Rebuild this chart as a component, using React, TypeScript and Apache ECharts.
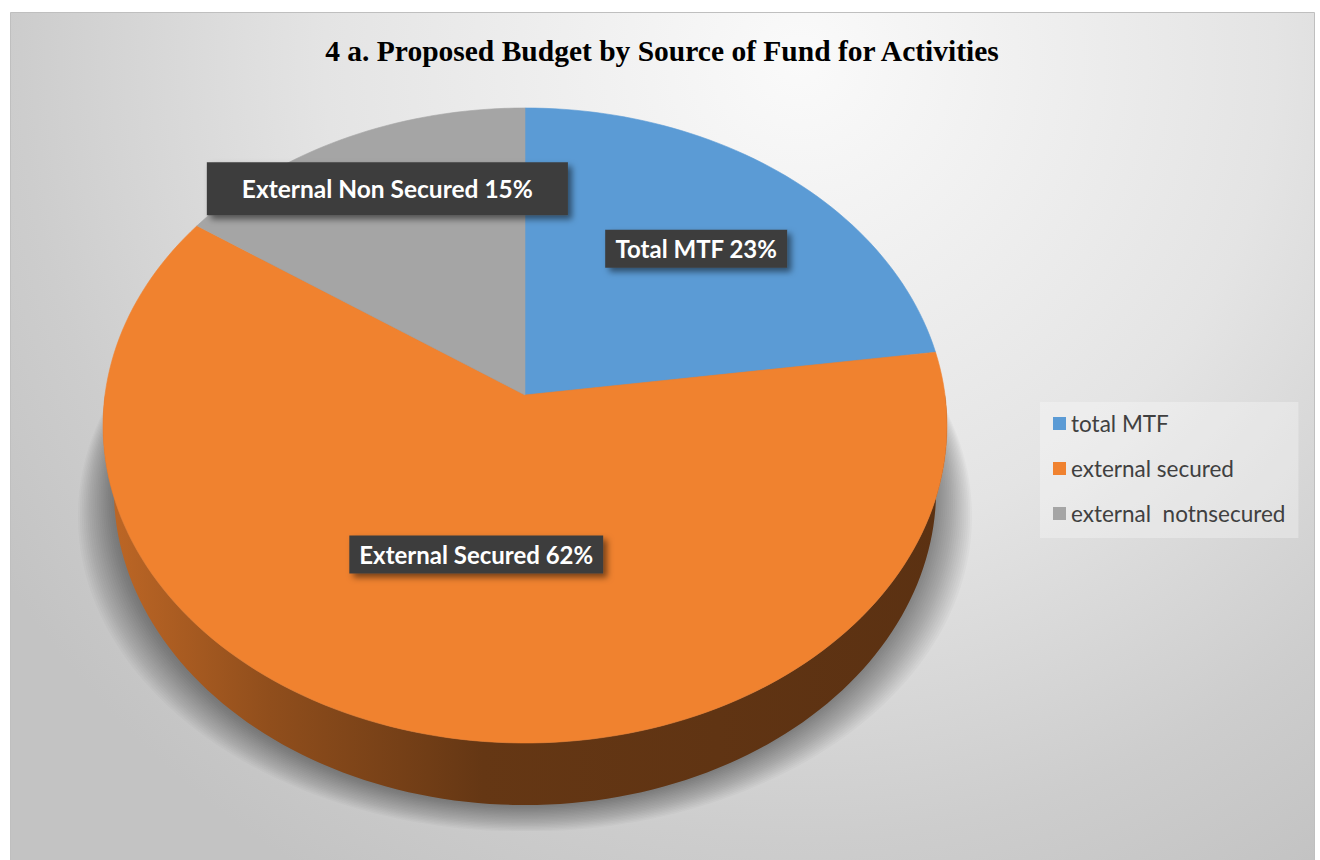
import React, { useEffect, useRef } from 'react';
import * as echarts from 'echarts';

const categories = ['total MTF', 'external secured', 'external  notnsecured'];
const labelNames = ['Total MTF', 'External Secured', 'External Non Secured'];
const values = [22.8, 61.8, 15.4];
const sliceColors = ['#5B9BD5', '#F0822F', '#A5A5A5'];
const titleText = '4 a. Proposed Budget by Source of Fund for Activities';

// geometry of the tilted (perspective) pie
const CX = 525;
const CY = 395;
const R = 420;
const SIN_B = 0.749;
const COS_B = 0.6626;
const DIST = 6.9;
const DEPTH = 0.24;
const LABEL_RADIUS = [0.65, 0.5, 0.79];
const LABEL_SHIFT = [[0, 1], [2, -1], [7, 0]];
const LABEL_PADDING = [[7, 10], [7, 10], [14, 35]];
const LABEL_SIZE = [24, 24, 24.5];

const total = values.reduce((a, b) => a + b, 0);
const startFrac = (i: number) => values.slice(0, i).reduce((a, b) => a + b, 0) / total;
const TAU = Math.PI * 2;

function project(theta: number, f: number, z: number): [number, number] {
  const X = f * Math.sin(theta);
  const Y = -f * Math.cos(theta);
  const sy = Y * SIN_B - z * COS_B;
  const dz = Y * COS_B + z * SIN_B;
  const s = 1 / (1 - dz / DIST);
  return [CX + R * X * s, CY + R * sy * s];
}

function arc(a: number, b: number, f: number, z: number): [number, number][] {
  const n = Math.max(6, Math.ceil(((b - a) / TAU) * 240));
  const pts: [number, number][] = [];
  for (let k = 0; k <= n; k++) pts.push(project(a + ((b - a) * k) / n, f, z));
  return pts;
}

function darken(hex: string, f: number) {
  const h = hex.replace('#', '');
  const r = Math.round(parseInt(h.slice(0, 2), 16) * f);
  const g = Math.round(parseInt(h.slice(2, 4), 16) * f);
  const b = Math.round(parseInt(h.slice(4, 6), 16) * f);
  return `rgb(${r},${g},${b})`;
}

function wallFill(color: string) {
  return {
    type: 'linear',
    x: 100,
    y: 0,
    x2: 950,
    y2: 0,
    global: true,
    colorStops: [
      { offset: 0, color: darken(color, 0.8) },
      { offset: 0.2, color: darken(color, 0.6) },
      { offset: 0.45, color: darken(color, 0.42) },
      { offset: 1, color: darken(color, 0.38) },
    ],
  };
}

const shadowSeries = {
  type: 'custom',
  name: 'shadow',
  coordinateSystem: 'none',
  z: 1,
  silent: true,
  data: [total],
  renderItem: () => {
    const base = arc(0, TAU, 1, -DEPTH);
    const children: any[] = [];
    const layers = 20;
    for (let i = 0; i < layers; i++) {
      const sx = 1 + 0.0046 * i;
      const dy = 1.4 * i;
      const pts = base.map(([x, y]) => [CX + (x - CX) * sx, Math.min(831, y + dy)]);
      children.push({
        type: 'polygon',
        shape: { points: pts },
        style: { fill: 'rgba(0,0,0,0.024)' },
      });
    }
    return { type: 'group', children };
  },
};

const wallSeries = {
  type: 'custom',
  name: 'walls',
  coordinateSystem: 'none',
  z: 2,
  silent: true,
  data: values.map((v, i) => [i, v]),
  renderItem: (params: any, api: any) => {
    const i = api.value(0);
    const v = api.value(1);
    const a0 = startFrac(i) * TAU;
    const b0 = a0 + (v / total) * TAU;
    const a = Math.max(a0, Math.PI / 2);
    const b = Math.min(b0, (Math.PI * 3) / 2);
    if (b <= a) return { type: 'group', children: [] };
    const top = arc(a, b, 1, 0);
    const bottom = arc(a, b, 1, -DEPTH).reverse();
    return {
      type: 'polygon',
      shape: { points: top.concat(bottom) },
      style: { fill: wallFill(sliceColors[i]) },
    };
  },
};

const topSeries = categories.map((name, i) => ({
  type: 'custom',
  name,
  coordinateSystem: 'none',
  z: 3,
  itemStyle: { color: sliceColors[i] },
  data: [values[i]],
  renderItem: (params: any, api: any) => {
    const v = api.value(0);
    const a = startFrac(i) * TAU;
    const b = a + (v / total) * TAU;
    const pts = [[CX, CY] as [number, number]].concat(arc(a, b, 1, 0));
    const mid = (a + b) / 2;
    const [lx, ly] = project(mid, LABEL_RADIUS[i], 0);
    const color = api.visual('color');
    return {
      type: 'group',
      children: [
        {
          type: 'polygon',
          shape: { points: pts },
          style: { fill: color, stroke: color, lineWidth: 0.6 },
        },
        {
          type: 'text',
          x: lx + LABEL_SHIFT[i][0],
          y: ly + LABEL_SHIFT[i][1],
          z2: 100,
          style: {
            text: `${labelNames[i]} ${Math.round((v / total) * 100)}%`,
            fill: '#ffffff',
            fontFamily: 'Lato',
            fontWeight: 'bold',
            fontSize: LABEL_SIZE[i],
            align: 'center',
            verticalAlign: 'middle',
            backgroundColor: '#3d3d3d',
            padding: LABEL_PADDING[i],
            shadowBlur: 6,
            shadowColor: 'rgba(0,0,0,0.5)',
            shadowOffsetX: 4,
            shadowOffsetY: 4,
          },
        },
      ],
    };
  },
}));

export default function App() {
  const ref = useRef<HTMLDivElement>(null);
  useEffect(() => {
    document.body.style.margin = '0';
    if (!ref.current) return;
    const chart = echarts.init(ref.current, null, { renderer: 'svg' });
    chart.setOption({
      animation: false,
      title: {
        text: titleText,
        left: 657,
        top: 31,
        textAlign: 'center',
        textStyle: {
          fontFamily: 'Liberation Serif',
          fontWeight: 'bold',
          fontSize: 29.5,
          color: '#000000',
        },
      },
      legend: {
        data: categories,
        orient: 'vertical',
        left: 1040,
        top: 402,
        itemWidth: 13,
        itemHeight: 13,
        itemGap: 22,
        icon: 'rect',
        padding: [10, 13, 13, 13],
        backgroundColor: 'rgba(255,255,255,0.3)',
        selectedMode: false,
        textStyle: { fontFamily: 'Lato', fontSize: 22.5, color: '#404040' },
      },
      graphic: [
        {
          type: 'rect',
          z: -10,
          silent: true,
          shape: { x: 10.5, y: 12.5, width: 1304, height: 870 },
          style: {
            fill: {
              type: 'radial',
              x: 800,
              y: 60,
              r: 950,
              global: true,
              colorStops: [
                { offset: 0, color: '#fafafa' },
                { offset: 0.5, color: '#e4e4e4' },
                { offset: 0.82, color: '#cdcdcd' },
                { offset: 1, color: '#c3c3c3' },
              ],
            },
            stroke: '#bfbfbf',
            lineWidth: 1,
          },
        },
      ],
      series: [shadowSeries, wallSeries, ...topSeries],
    });
    return () => chart.dispose();
  }, []);
  return <div ref={ref} style={{ width: 1320, height: 860 }} />;
}
